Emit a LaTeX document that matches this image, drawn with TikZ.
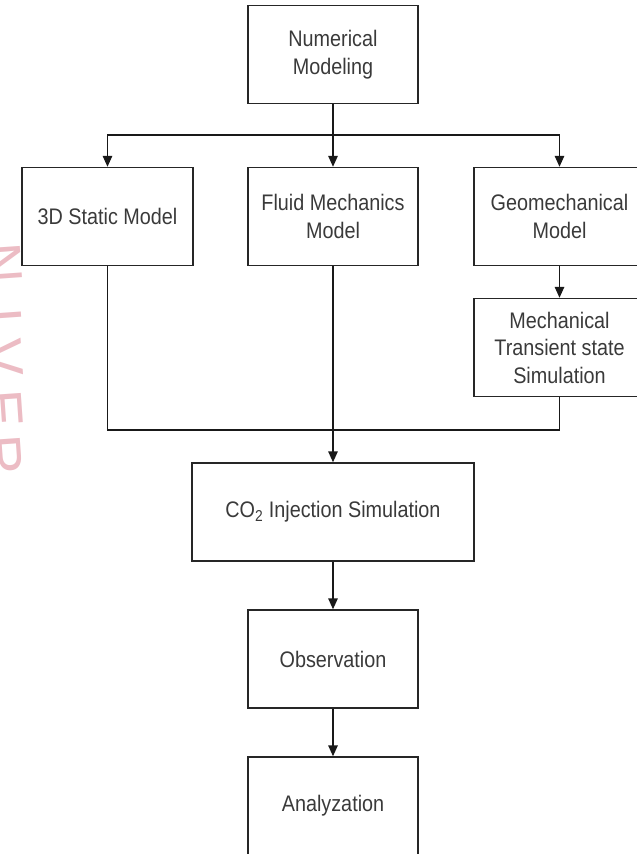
\documentclass[tikz,border=0pt]{standalone}
\usepackage{fontspec}
\setmainfont{Liberation Sans}[FakeStretch=0.88]
\newfontfamily\wmfont{Liberation Sans}
\usetikzlibrary{arrows.meta}
\definecolor{txt}{RGB}{58,58,58}
\definecolor{wm}{RGB}{236,188,196}
\tikzset{
  box/.style={draw=black!85, line width=1.4pt, minimum width=170pt, minimum height=98pt,
    align=center, text=txt, inner sep=2pt, font=\fontsize{22.5}{27.5}\selectfont},
  conn/.style={draw=black!90, line width=1.4pt},
  arr/.style={conn, -{Triangle[length=11pt,width=9.5pt]}},
  wmletter/.style={text=wm, font=\wmfont\fontsize{56}{60}\selectfont, inner sep=0pt, anchor=north, rotate=-86}
}
\begin{document}
\begin{tikzpicture}[x=1pt,y=-1pt]
\useasboundingbox (0,0) rectangle (637,854);
% watermark
\node[wmletter] (wmN) at (22,262) {N};
\node[wmletter] (wmI) at (22,315) {I};
\node[wmletter] (wmV) at (22,356) {V};
\node[wmletter] (wmE) at (22,407) {E};
\node[wmletter] (wmR) at (22,454) {R};
% boxes
\node[box] (num) at (333,54.5) {Numerical\\Modeling};
\node[box, minimum width=171pt] (s3d) at (107.5,216.5) {3D Static Model};
\node[box] (fluid) at (333,216.5) {Fluid Mechanics\\Model};
\node[box, minimum width=171pt] (geo) at (559.5,216.5) {Geomechanical\\Model};
\node[box, minimum width=171pt] (mech) at (559.5,347.5) {Mechanical\\Transient state\\Simulation};
\node[box, minimum width=282pt] (co2) at (333,512) {CO\textsubscript{2} Injection Simulation};
\node[box] (obs) at (333,659) {Observation};
\node[box] (ana) at (333,806) {Analyzation};
% connectors
\coordinate (split) at (333,135);
\coordinate (merge) at (333,430);
\draw[conn] (num.south) -- (split);
\draw[arr] (split) -| (s3d.north);
\draw[arr] (split) -- (fluid.north);
\draw[arr] (split) -| (geo.north);
\draw[arr] (geo.south) -- (mech.north);
\draw[conn] (s3d.south) |- (merge) -| (mech.south);
\draw[arr] (fluid.south) -- (co2.north);
\draw[arr] (co2.south) -- (obs.north);
\draw[arr] (obs.south) -- (ana.north);
\end{tikzpicture}
\end{document}
